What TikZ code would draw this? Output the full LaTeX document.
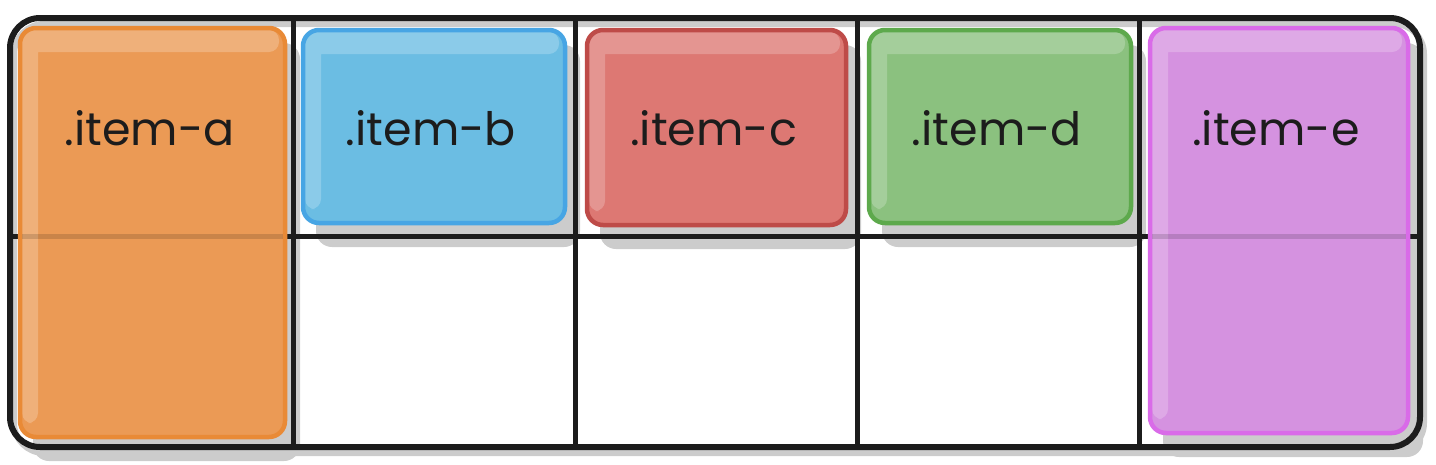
\documentclass[tikz,border=0pt]{standalone}
\usepackage{fontspec}
\setmainfont{Poppins}
\definecolor{filla}{HTML}{EB9A55}
\definecolor{linea}{HTML}{E98A36}
\definecolor{fillb}{HTML}{6BBDE3}
\definecolor{lineb}{HTML}{47A5E4}
\definecolor{fillc}{HTML}{DD7873}
\definecolor{linec}{HTML}{BE4B48}
\definecolor{filld}{HTML}{8BC17F}
\definecolor{lined}{HTML}{5DA94C}
\definecolor{fille}{HTML}{D592E0}
\definecolor{linee}{HTML}{D96BE8}
\definecolor{ink}{HTML}{1C1C1C}
\definecolor{shadow}{HTML}{CCCCCC}
\begin{document}
\begin{tikzpicture}[x=1pt,y=-1pt,
	gridline/.style={ink,line width=5pt},
	itemlabel/.style={font=\fontsize{46}{50}\selectfont,text=ink,anchor=base,inner sep=0pt}]
	\useasboundingbox (0,0) rectangle (1436,464);
	% shadows
	\draw[shadow,line width=6pt,rounded corners=30pt] (14,24) rectangle (1424,453);
	\foreach \xa/\ya/\xb/\yb/\lab in {20/28/285/437/a,303/30/565/223/b,587/30/846/225/c,869/30/1131/223/d,1150/28/1408/433/e}
		\fill[shadow,rounded corners=16pt] (\xa+13,\ya+15) rectangle (\xb+15,\yb+24);
	% grid
	\draw[gridline,line width=6pt,rounded corners=30pt] (10,18) rectangle (1420,447);
	\foreach \gx in {293,575,857,1139}
		\draw[gridline] (\gx,18) -- (\gx,447);
	\draw[gridline] (10,236) -- (1420,236);
	% items
	\foreach \xa/\ya/\xb/\yb/\lab in {20/28/285/437/a,303/30/565/223/b,587/30/846/225/c,869/30/1131/223/d,1150/28/1408/433/e}{
		\begin{scope}
			\clip[rounded corners=16pt] (\xa,\ya) rectangle (\xb,\yb);
			\fill[fill\lab] (\xa,\ya) rectangle (\xb,\yb);
			\fill[white,fill opacity=0.22,rounded corners=10pt] (\xa+2,\ya+2) rectangle (\xb-6,\ya+24) (\xa+2,\ya+2) rectangle (\xa+18,\yb-14);
		\end{scope}
		\draw[line\lab,line width=4.5pt,rounded corners=16pt] (\xa,\ya) rectangle (\xb,\yb);
		\node[itemlabel] (item\lab) at ({(\xa+\xb)/2-3},145) {.item-\lab};
	}
	% grid line seen through the tall items
	\draw[black,opacity=0.14,line width=5pt] (22,236) -- (283,236);
	\draw[black,opacity=0.14,line width=5pt] (1152,236) -- (1406,236);
\end{tikzpicture}
\end{document}
